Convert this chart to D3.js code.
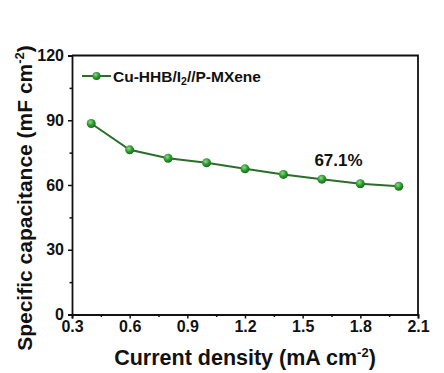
<!DOCTYPE html>
<html>
<head>
<meta charset="utf-8">
<script src="https://cdn.jsdelivr.net/npm/d3@7"></script>
<style>
  body { margin: 0; background: #fff; }
  text { font-family: "Liberation Sans", Arial, sans-serif; font-weight: bold; }
</style>
</head>
<body>
<div id="chart"></div>
<script>
const currentDensity = [0.4, 0.6, 0.8, 1.0, 1.2, 1.4, 1.6, 1.8, 2.0];
const capacitance = [88.5, 76.3, 72.4, 70.3, 67.5, 64.9, 62.7, 60.6, 59.4];
const xTicks = [0.3, 0.6, 0.9, 1.2, 1.5, 1.8, 2.1];
const yTicks = [0, 30, 60, 90, 120];
const retention = "67.1%";

const width = 444, height = 373;
const margin = { left: 72, right: 26, top: 55.5, bottom: 58.5 };

const svg = d3.select('#chart').append('svg')
  .attr('width', width).attr('height', height);

const x = d3.scaleLinear().domain([0.3, 2.1]).range([margin.left, width - margin.right]);
const y = d3.scaleLinear().domain([0, 120]).range([height - margin.bottom, margin.top]);

// gradient for the ball markers
const grad = svg.append('defs').append('radialGradient')
  .attr('id', 'ball').attr('cx', '40%').attr('cy', '35%').attr('r', '65%');
grad.append('stop').attr('offset', '0%').attr('stop-color', '#8fdc8f');
grad.append('stop').attr('offset', '55%').attr('stop-color', '#2f9a2f');
grad.append('stop').attr('offset', '100%').attr('stop-color', '#1c6b1c');

// axes with minor ticks
const xMinor = d3.range(0.45, 2.1, 0.3);
const yMinor = d3.range(15, 120, 30);

svg.append('g')
  .attr('transform', `translate(0,${y(0)})`)
  .call(d3.axisBottom(x).tickValues(xTicks).tickFormat(d3.format('.1f')).tickSize(4).tickPadding(2));
svg.append('g')
  .attr('transform', `translate(0,${y(0)})`)
  .call(d3.axisBottom(x).tickValues(xMinor).tickSize(2.5).tickFormat(''))
  .select('.domain').remove();

svg.append('g')
  .attr('transform', `translate(${x(0.3)},0)`)
  .call(d3.axisLeft(y).tickValues(yTicks).tickSize(4).tickPadding(4));
svg.append('g')
  .attr('transform', `translate(${x(0.3)},0)`)
  .call(d3.axisLeft(y).tickValues(yMinor).tickSize(2.5).tickFormat(''))
  .select('.domain').remove();

svg.selectAll('.tick text').attr('font-size', 16).attr('fill', '#111');
svg.selectAll('.tick line').attr('stroke-width', 1.5).attr('stroke', '#111');
svg.selectAll('.domain').attr('stroke-width', 1.8).attr('stroke', '#111');

// box top/right
svg.append('path')
  .attr('d', `M${x(0.3)},${y(120)}H${x(2.1)}V${y(0)}`)
  .attr('fill', 'none').attr('stroke', '#111').attr('stroke-width', 1.8);

// series line
const pts = currentDensity.map((d, i) => [d, capacitance[i]]);
svg.append('path')
  .datum(pts)
  .attr('d', d3.line().x(d => x(d[0])).y(d => y(d[1])))
  .attr('fill', 'none').attr('stroke', '#2a6e2a').attr('stroke-width', 2);

svg.selectAll('.pt').data(pts).enter().append('circle')
  .attr('class', 'pt')
  .attr('cx', d => x(d[0])).attr('cy', d => y(d[1]))
  .attr('r', 4.5).attr('fill', 'url(#ball)');

// legend
const lg = svg.append('g').attr('transform', 'translate(82,76)');
lg.append('line').attr('x1', 0).attr('x2', 29).attr('stroke', '#2a6e2a').attr('stroke-width', 2);
lg.append('circle').attr('cx', 14.5).attr('r', 4).attr('fill', 'url(#ball)');
const lt = lg.append('text').attr('x', 31).attr('y', 5.5).attr('font-size', 15.5).attr('fill', '#111');
lt.append('tspan').text('Cu-HHB/I');
lt.append('tspan').text('2').attr('font-size', 10.5).attr('dy', 3.5);
lt.append('tspan').text('//P-MXene').attr('dy', -3.5);

// annotation
svg.append('text')
  .attr('x', 338.5).attr('y', y(68.8))
  .attr('text-anchor', 'middle').attr('font-size', 17).attr('fill', '#111')
  .text(retention);

// axis titles
const xt = svg.append('text')
  .attr('x', 245).attr('y', 365)
  .attr('text-anchor', 'middle').attr('font-size', 21.5).attr('fill', '#111');
xt.append('tspan').text('Current density (mA cm');
xt.append('tspan').text('-2').attr('font-size', 13).attr('dy', -8);
xt.append('tspan').text(')').attr('dy', 8);

const yt = svg.append('text')
  .attr('transform', `translate(32,198) rotate(-90)`)
  .attr('text-anchor', 'middle').attr('font-size', 21).attr('fill', '#111');
yt.append('tspan').text('Specific capacitance (mF cm');
yt.append('tspan').text('-2').attr('font-size', 13).attr('dy', -8);
yt.append('tspan').text(')').attr('dy', 8);
</script>
</body>
</html>
